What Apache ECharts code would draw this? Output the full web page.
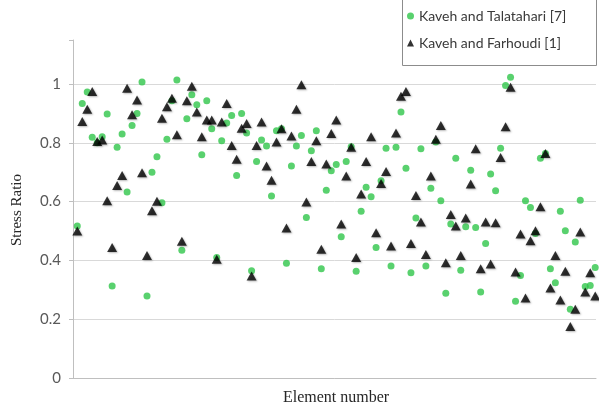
<!DOCTYPE html>
<html>
<head>
<meta charset="utf-8">
<script src="https://cdn.jsdelivr.net/npm/echarts@6/dist/echarts.min.js"></script>
<style>
  html, body { margin: 0; padding: 0; background: #fff; }
  #chart { width: 599px; height: 411px; }
</style>
</head>
<body>
<div id="chart"></div>
<script>
// Stress ratio of each element for the two reference designs
const seriesNames = ['Kaveh and Talatahari [7]', 'Kaveh and Farhoudi [1]'];

const talatahari = [
  0.517, 0.934, 0.973, 0.819, 0.800, 0.821, 0.898, 0.313, 0.785, 0.830,
  0.633, 0.859, 0.900, 1.007, 0.279, 0.700, 0.753, 0.596, 0.812, 0.943,
  1.014, 0.435, 0.882, 0.964, 0.930, 0.760, 0.943, 0.848, 0.410, 0.807,
  0.868, 0.893, 0.689, 0.900, 0.834, 0.365, 0.737, 0.810, 0.789, 0.619,
  0.841, 0.848, 0.390, 0.721, 0.789, 0.825, 0.546, 0.773, 0.841, 0.372,
  0.639, 0.705, 0.726, 0.481, 0.737, 0.787, 0.363, 0.567, 0.649, 0.617,
  0.444, 0.671, 0.782, 0.381, 0.785, 0.905, 0.714, 0.358, 0.544, 0.780,
  0.381, 0.646, 0.803, 0.603, 0.288, 0.524, 0.748, 0.367, 0.515, 0.707,
  0.512, 0.293, 0.458, 0.694, 0.637, 0.782, 0.995, 1.023, 0.261, 0.349,
  0.603, 0.580, 0.492, 0.748, 0.764, 0.372, 0.324, 0.567, 0.501, 0.234,
  0.463, 0.605, 0.311, 0.315, 0.376
];

const farhoudi = [
  0.500, 0.873, 0.914, 0.975, 0.805, 0.810, 0.603, 0.444, 0.655, 0.689,
  0.986, 0.896, 0.946, 0.698, 0.417, 0.569, 0.601, 0.884, 0.923, 0.952,
  0.828, 0.465, 0.943, 0.993, 0.905, 0.821, 0.878, 0.878, 0.404, 0.871,
  0.934, 0.791, 0.744, 0.850, 0.866, 0.347, 0.791, 0.871, 0.721, 0.673,
  0.803, 0.848, 0.510, 0.823, 0.914, 0.998, 0.599, 0.737, 0.807, 0.438,
  0.728, 0.832, 0.878, 0.524, 0.687, 0.785, 0.410, 0.626, 0.737, 0.821,
  0.494, 0.662, 0.703, 0.449, 0.834, 0.959, 0.975, 0.458, 0.621, 0.531,
  0.420, 0.687, 0.812, 0.859, 0.392, 0.556, 0.517, 0.417, 0.544, 0.660,
  0.780, 0.372, 0.531, 0.388, 0.528, 0.750, 0.855, 0.989, 0.361, 0.490,
  0.272, 0.467, 0.501, 0.583, 0.764, 0.306, 0.417, 0.265, 0.363, 0.175,
  0.234, 0.497, 0.293, 0.358, 0.279
];

const yTickLabels = ['0', '0.2', '0.4', '0.6', '0.8', '1'];

const toPoints = vals => vals.map((v, i) => [i + 1, v]);

const chart = echarts.init(document.getElementById('chart'), null, { renderer: 'canvas' });

chart.setOption({
  animation: false,
  backgroundColor: '#ffffff',
  grid: { left: 73, right: 3, top: 40, bottom: 33, containLabel: false },
  legend: {
    orient: 'vertical',
    left: 402,
    top: -2,
    padding: [11, 10, 16, 5],
    itemGap: 13,
    itemWidth: 7,
    itemHeight: 7,
    textStyle: { fontFamily: 'Lato', fontSize: 14, color: '#3a3a3a' },
    data: [
      { name: seriesNames[0], icon: 'circle' },
      { name: seriesNames[1], icon: 'triangle' }
    ]
  },
  xAxis: {
    type: 'value',
    min: 0.14,
    max: 105.16,
    axisLine: { show: true, lineStyle: { color: '#bfbfbf', width: 1 } },
    axisTick: { show: false },
    axisLabel: { show: false },
    splitLine: { show: false }
  },
  yAxis: {
    type: 'value',
    min: 0,
    max: 1.15,
    interval: 0.2,
    axisLine: { show: true, lineStyle: { color: '#bfbfbf', width: 1 } },
    axisTick: { show: true, length: 4, lineStyle: { color: '#bfbfbf' } },
    axisLabel: {
      margin: 12,
      fontFamily: 'Lato',
      fontSize: 15,
      color: '#595959',
      formatter: v => {
        const k = Math.round(v / 0.2);
        return Math.abs(v - k * 0.2) < 1e-6 && k < yTickLabels.length ? yTickLabels[k] : '';
      }
    },
    splitLine: {
      show: true,
      lineStyle: {
        color: ['#d9d9d9', '#d9d9d9', '#d9d9d9', '#d9d9d9', '#d9d9d9', '#d9d9d9', 'rgba(0,0,0,0)'],
        width: 1
      }
    }
  },
  series: [
    {
      name: seriesNames[0],
      type: 'scatter',
      symbol: 'circle',
      symbolSize: 7,
      itemStyle: { color: '#2fc54a' },
      data: toPoints(talatahari),
      z: 2
    },
    {
      name: seriesNames[1],
      type: 'scatter',
      symbol: 'triangle',
      symbolSize: [10, 9],
      itemStyle: {
        color: '#000000',
        shadowColor: 'rgba(0,0,0,0.35)',
        shadowBlur: 2,
        shadowOffsetX: 1,
        shadowOffsetY: 1
      },
      data: toPoints(farhoudi),
      z: 3
    }
  ],
  graphic: [
    {
      // legend frame
      type: 'rect',
      z: 100,
      shape: { x: 402.5, y: -1.5, width: 194, height: 67 },
      style: { fill: 'none', stroke: '#8c8c8c', lineWidth: 1 }
    },
    {
      type: 'text',
      x: 17,
      y: 210,
      rotation: Math.PI / 2,
      style: {
        text: 'Stress Ratio',
        font: '15px "Liberation Serif", "Times New Roman", serif',
        fill: '#262626',
        align: 'center',
        verticalAlign: 'middle'
      }
    },
    {
      type: 'text',
      x: 336,
      y: 398,
      style: {
        text: 'Element number',
        font: '16px "Liberation Serif", "Times New Roman", serif',
        fill: '#262626',
        align: 'center',
        verticalAlign: 'middle'
      }
    }
  ]
});
</script>
</body>
</html>
